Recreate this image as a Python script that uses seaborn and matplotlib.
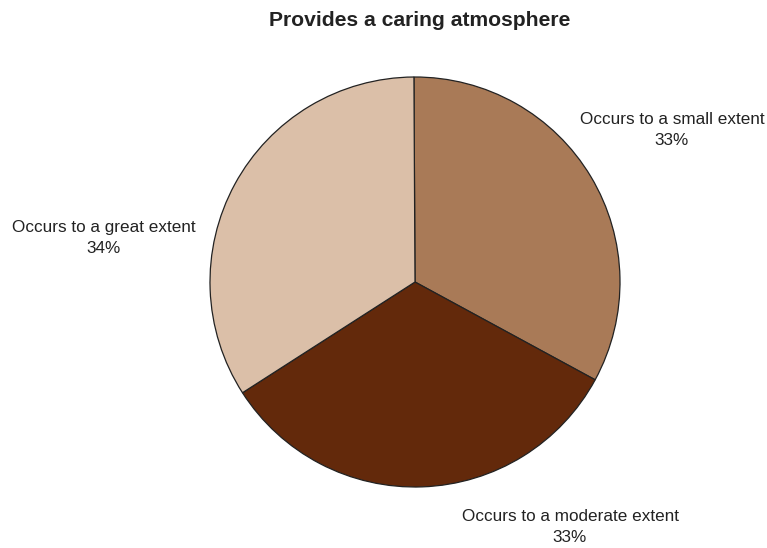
import matplotlib
matplotlib.use("Agg")
import matplotlib.pyplot as plt
import seaborn as sns

# Survey responses for "Provides a caring atmosphere"
categories = ["Occurs to a small extent", "Occurs to a moderate extent", "Occurs to a great extent"]
shares = [33, 33, 34]
colors = ["#A97A57", "#63290B", "#DBBFA8"]

sns.set_theme(style="white")
plt.rcParams["font.family"] = ["Liberation Sans Narrow", "Liberation Sans", "DejaVu Sans"]

W, H = 767, 548
fig = plt.figure(figsize=(W / 100, H / 100), dpi=100)
fig.patch.set_facecolor("white")

# square axes holding the pie (pixel box converted to figure fractions)
cx, cy, r = 415, 282, 205
ax = fig.add_axes([(cx - r) / W, (H - cy - r) / H, 2 * r / W, 2 * r / H])

wedges, _ = ax.pie(
    shares,
    colors=colors,
    startangle=90.3,
    counterclock=False,
    wedgeprops=dict(edgecolor="#222222", linewidth=0.9),
)
ax.set_xlim(-1, 1)
ax.set_ylim(-1, 1)
ax.set_aspect("equal")
ax.axis("off")

# label anchor points in pixels (centre of each two-line label)
label_px = [(672, 130), (570, 527), (104, 238)]
for name, val, (px, py) in zip(categories, shares, label_px):
    fig.text(px / W, 1 - py / H, f"{name}\n{val}%", ha="center", va="center",
             fontsize=12.3, color="#222222", linespacing=1.5)

fig.text(420 / W, 1 - 20 / H, "Provides a caring atmosphere", ha="center", va="center",
         fontsize=15.2, fontweight="bold", color="#222222")

fig.savefig("out.png", dpi=100, facecolor="white")
